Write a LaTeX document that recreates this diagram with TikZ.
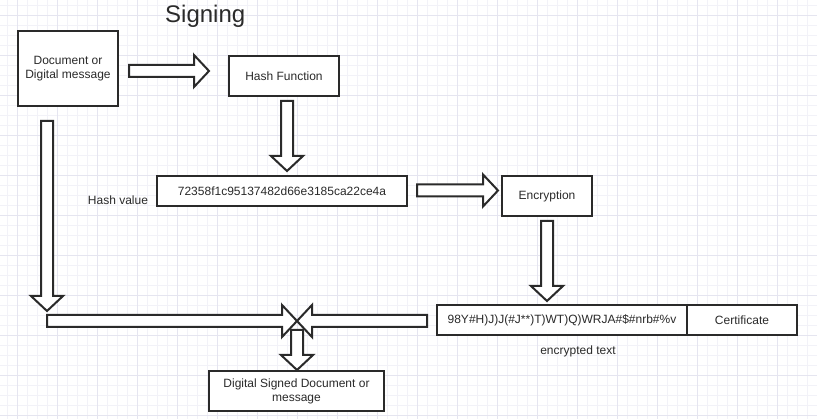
\documentclass[tikz,border=0pt]{standalone}
\usepackage{fontspec}
\setmainfont{Liberation Sans}
\usetikzlibrary{calc}
\definecolor{ink}{HTML}{2A2A2A}
\definecolor{gridminor}{HTML}{F2F2F8}
\definecolor{gridmajor}{HTML}{E5E5F0}
\tikzset{
  box/.style={draw=ink, line width=2pt, fill=white, inner sep=0pt,
    font=\fontsize{12}{14}\selectfont, text=ink, align=center},
  lbl/.style={inner sep=0pt, font=\fontsize{12}{14}\selectfont, text=ink},
  blk/.style={draw=ink, line width=2pt, fill=white, line join=miter},
}
\newcommand\blockarrow[2]{%
  \coordinate (ba-h) at ($(#2)!15pt!(#1)$);
  \draw[blk] ($(#1)!6pt!90:(#2)$) -- ($(ba-h)!6pt!90:(#2)$) -- ($(ba-h)!16pt!90:(#2)$)
    -- (#2) -- ($(ba-h)!16pt!-90:(#2)$) -- ($(ba-h)!6pt!-90:(#2)$)
    -- ($(#1)!6pt!-90:(#2)$) -- cycle;}
\begin{document}
\begin{tikzpicture}[x=1pt,y=-1pt]
\useasboundingbox (0,0) rectangle (817,419);
\fill[white] (0,0) rectangle (817,419);
% grid
\foreach \gx in {7,17,...,817} \draw[gridminor, line width=1pt] (\gx,0) -- (\gx,419);
\foreach \gy in {6,16,...,416} \draw[gridminor, line width=1pt] (0,\gy) -- (817,\gy);
\foreach \gx in {17,57,...,817} \draw[gridmajor, line width=1pt] (\gx,0) -- (\gx,419);
\foreach \gy in {16,56,...,416} \draw[gridmajor, line width=1pt] (0,\gy) -- (817,\gy);

% title
\node[lbl, font=\fontsize{24}{28}\selectfont, anchor=west] (title) at (165,16.5) {Signing};

% boxes
\node[box, minimum width=100pt, minimum height=75pt] (doc) at (68,68.5) {Document or\\Digital message};
\node[box, minimum width=110pt, minimum height=40pt] (hash) at (284,76) {Hash Function};
\node[box, minimum width=250pt, minimum height=30pt] (hv) at (282,191) {72358f1c95137482d66e3185ca22ce4a};
\node[lbl] (hvl) at (118,200) {Hash value};
\node[box, minimum width=90pt, minimum height=40pt] (enc) at (547,196) {Encryption};
\node[box, minimum width=250pt, minimum height=30pt] (encr) at (562,320.5) {98Y\#H)J)J(\#J**)T)WT)Q)WRJA\#\$\#nrb\#\%v};
\node[box, minimum width=110pt, minimum height=30pt, anchor=west] (cert) at ($(encr.east)+(-2,0)$) {Certificate};
\node[lbl] (encl) at (578,351) {encrypted text};
\node[box, minimum width=175pt, minimum height=40pt] (final) at (296.5,391) {Digital Signed Document or\\message};

% arrow end points
\coordinate (a1s) at (129,71);   \coordinate (a1e) at (209,71);
\coordinate (a2s) at (287,101);  \coordinate (a2e) at (287,171);
\coordinate (a3s) at (417,190.5);\coordinate (a3e) at (498,190.5);
\coordinate (a4s) at (547,221);  \coordinate (a4e) at (547,301);
\coordinate (a5s) at (47,121);   \coordinate (a5e) at (47,311);
\coordinate (a6s) at (47,321);   \coordinate (j) at (297,321);
\coordinate (a7s) at (427,321);
\coordinate (a8s) at (297,330);  \coordinate (a8e) at (297,370);

\blockarrow{a1s}{a1e}
\blockarrow{a2s}{a2e}
\blockarrow{a3s}{a3e}
\blockarrow{a4s}{a4e}
\blockarrow{a5s}{a5e}
\blockarrow{a6s}{j}
\blockarrow{a7s}{j}
\blockarrow{a8s}{a8e}
\end{tikzpicture}
\end{document}
